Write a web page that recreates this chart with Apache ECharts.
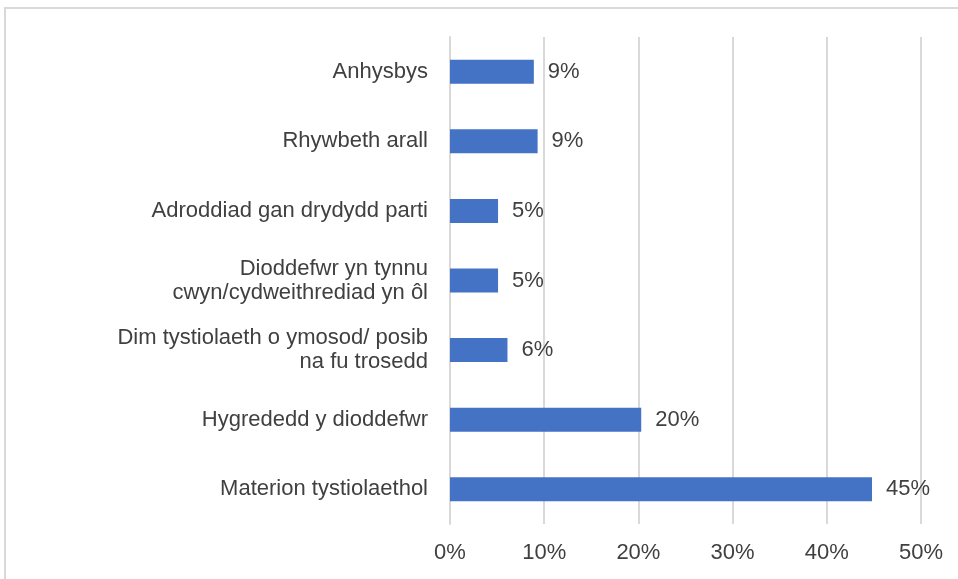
<!DOCTYPE html>
<html>
<head>
<meta charset="utf-8">
<script src="https://cdn.jsdelivr.net/npm/echarts@6/dist/echarts.min.js"></script>
<style>
  html, body { margin: 0; padding: 0; background: #fff; }
  #chart { width: 958px; height: 579px; }
</style>
</head>
<body>
<div id="chart"></div>
<script>
// categories, top to bottom
const categories = [
    'Anhysbys',
    'Rhywbeth arall',
    'Adroddiad gan drydydd parti',
    'Dioddefwr yn tynnu\ncwyn/cydweithrediad yn ôl',
    'Dim tystiolaeth o ymosod/ posib\nna fu trosedd',
    'Hygrededd y dioddefwr',
    'Materion tystiolaethol'
];
// share of cases, percent
const values = [8.9, 9.3, 5.1, 5.1, 6.1, 20.3, 44.8];
const xTicks = [0, 10, 20, 30, 40, 50];

const fontFamily = 'Liberation Sans, Arial, sans-serif';
const textColor = '#404040';

let chart = echarts.init(document.getElementById('chart'), null, { renderer: 'canvas' });
let option = {
    animation: false,
    backgroundColor: '#fff',
    textStyle: { fontFamily: fontFamily },
    graphic: [
        {
            type: 'rect',
            shape: { x: 5, y: 8, width: 1000, height: 1000 },
            style: { fill: 'none', stroke: '#d9d9d9', lineWidth: 2 },
            silent: true,
        },
    ],
    grid: {
        left: 450,
        right: 37,
        top: 37,
        bottom: 55,
        containLabel: false,
    },
    xAxis: {
        type: 'value',
        min: xTicks[0],
        max: xTicks[xTicks.length - 1],
        interval: 10,
        axisLine: { show: false },
        axisTick: { show: false },
        splitLine: { lineStyle: { color: '#d9d9d9', width: 2 } },
        axisLabel: {
            color: textColor,
            fontSize: 22,
            margin: 18,
            formatter: v => v + '%',
        },
    },
    yAxis: {
        type: 'category',
        data: categories,
        inverse: true,
        axisLine: { show: true, lineStyle: { color: '#d9d9d9', width: 2 } },
        axisTick: { show: false },
        axisLabel: {
            color: textColor,
            fontSize: 22,
            lineHeight: 24,
            margin: 22,
            align: 'right',
        },
    },
    series: [
        {
            type: 'bar',
            data: values,
            barWidth: 24,
            itemStyle: { color: '#4472c4' },
            label: {
                show: true,
                position: 'right',
                distance: 14,
                color: textColor,
                fontSize: 22,
                formatter: p => Math.round(p.value) + '%',
            },
        },
    ],
};
chart.setOption(option);
</script>
</body>
</html>
